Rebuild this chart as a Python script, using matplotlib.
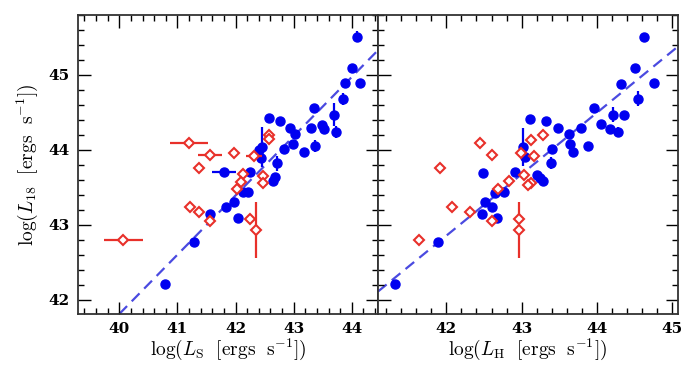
import matplotlib
matplotlib.use("Agg")
import matplotlib.pyplot as plt
from matplotlib.ticker import MultipleLocator

plt.rcParams["mathtext.fontset"] = "cm"
plt.rcParams["font.family"] = "DejaVu Serif"

# -----------------------------------------------------------------------------------------
# Data
# -----------------------------------------------------------------------------------------
# left panel, blue filled circles: log L_S vs log L_18
s_blue_x = [40.78, 41.28, 41.56, 41.80, 41.84, 41.98, 42.05, 42.13, 42.22, 42.24, 42.41, 42.45,
            42.43, 42.65, 42.67, 42.72, 42.58, 42.77, 42.84, 42.93, 42.98, 43.02, 43.17, 43.29,
            43.35, 43.36, 43.48, 43.52, 43.70, 43.73, 43.85, 43.88, 44.00, 44.14, 44.09]
s_blue_y = [42.21, 42.77, 43.15, 43.71, 43.24, 43.31, 43.09, 43.44, 43.44, 43.71, 44.00, 44.04,
            43.89, 43.59, 43.64, 43.82, 44.42, 44.39, 44.01, 44.29, 44.08, 44.21, 43.97, 44.29,
            44.56, 44.05, 44.33, 44.28, 44.47, 44.24, 44.68, 44.89, 45.09, 44.89, 45.51]
s_blue_xerr = [0, 0, 0, 0.2, 0, 0, 0, 0, 0, 0, 0, 0,
               0, 0, 0, 0, 0, 0, 0, 0, 0, 0, 0, 0,
               0, 0, 0, 0, 0.05, 0, 0, 0, 0, 0, 0]
s_blue_yerr = [0, 0, 0, 0, 0, 0, 0, 0, 0, 0, 0, 0.27,
               0, 0, 0, 0.1, 0, 0, 0, 0, 0, 0, 0, 0,
               0, 0.08, 0, 0, 0.15, 0.08, 0.08, 0, 0, 0, 0.07]

# left panel, red open diamonds
s_red_x = [41.20, 41.56, 41.98, 42.32, 42.57, 42.57, 41.37, 42.13, 42.10, 42.03, 42.48, 42.48,
           41.21, 41.37, 41.56, 42.25, 42.36, 40.07]
s_red_y = [44.09, 43.93, 43.96, 43.92, 44.20, 44.14, 43.76, 43.68, 43.57, 43.48, 43.65, 43.56,
           43.24, 43.17, 43.05, 43.08, 42.93, 42.80]
s_red_xerr = [0.32, 0.2, 0, 0.14, 0, 0, 0, 0, 0, 0, 0, 0,
              0, 0, 0, 0, 0, 0.33]
s_red_yerr = [0, 0, 0, 0, 0, 0, 0, 0, 0, 0, 0, 0,
              0, 0, 0, 0, 0.37, 0]

# right panel, blue filled circles: log L_H vs log L_18
h_blue_x = [41.32, 41.89, 42.47, 42.51, 42.61, 42.67, 42.64, 42.77, 42.49, 42.91, 43.20, 43.25,
            43.28, 43.02, 43.04, 43.39, 43.41, 43.11, 43.33, 43.49, 43.63, 43.65, 43.69, 43.79,
            43.88, 43.96, 44.05, 44.17, 44.28, 44.21, 44.36, 44.55, 44.32, 44.76, 44.51, 44.63]
h_blue_y = [42.21, 42.77, 43.15, 43.31, 43.24, 43.09, 43.43, 43.44, 43.69, 43.71, 43.67, 43.63,
            43.59, 44.04, 43.90, 43.83, 44.01, 44.41, 44.39, 44.29, 44.21, 44.08, 43.97, 44.29,
            44.05, 44.56, 44.34, 44.28, 44.24, 44.47, 44.47, 44.68, 44.88, 44.89, 45.09, 45.51]
h_blue_yerr = [0, 0, 0, 0, 0, 0, 0, 0, 0, 0, 0, 0,
               0, 0.25, 0, 0.08, 0, 0, 0, 0, 0, 0, 0, 0,
               0.06, 0, 0, 0, 0.06, 0.1, 0, 0.1, 0, 0, 0, 0.05]

# right panel, red open diamonds
h_red_x = [42.45, 43.13, 43.29, 42.60, 42.99, 43.17, 41.92, 43.03, 42.83, 42.69, 43.13, 43.09,
           42.08, 42.31, 42.61, 42.97, 42.97, 41.63]
h_red_y = [44.09, 44.13, 44.20, 43.93, 43.96, 43.92, 43.76, 43.67, 43.58, 43.48, 43.56, 43.53,
           43.24, 43.17, 43.05, 43.08, 42.93, 42.80]
h_red_yerr = [0, 0, 0, 0, 0, 0, 0, 0, 0, 0, 0, 0,
              0, 0, 0, 0, 0.37, 0]

# dashed fits: two end points each
s_fit_x = [40.0, 44.45]
s_fit_y = [41.81, 45.33]
h_fit_x = [41.09, 45.08]
h_fit_y = [42.11, 45.38]

blue = "#0000f0"
red = "#e8302a"
line_blue = "#4a4ae0"

# -----------------------------------------------------------------------------------------
# Figure
# -----------------------------------------------------------------------------------------
fig = plt.figure(figsize=(6.92, 3.67), dpi=100)
ax1 = fig.add_axes([78 / 692, 1 - 314 / 367, 300 / 692, 299 / 367])
ax2 = fig.add_axes([378 / 692, 1 - 314 / 367, 300 / 692, 299 / 367])


def draw_panel(ax, bx, by, bxe, bye, rx, ry, rxe, rye, fx, fy):
    ax.plot(fx, fy, linestyle=(0, (5, 3)), color=line_blue, lw=1.6, zorder=1)
    ax.errorbar(bx, by, xerr=bxe, yerr=bye, fmt="o", color=blue, ms=6.5,
                elinewidth=1.6, capsize=0, zorder=2)
    ax.errorbar(rx, ry, xerr=rxe, yerr=rye, fmt="D", color=red, mfc="white", mec=red,
                mew=1.5, ms=5.5, elinewidth=1.6, capsize=0, zorder=3)
    ax.set_ylim(41.81, 45.8)
    ax.xaxis.set_major_locator(MultipleLocator(1))
    ax.xaxis.set_minor_locator(MultipleLocator(0.2))
    ax.yaxis.set_major_locator(MultipleLocator(1))
    ax.yaxis.set_minor_locator(MultipleLocator(0.2))
    ax.tick_params(which="both", direction="in", top=True, right=True, width=1.0,
                   labelsize=11, pad=6)
    ax.tick_params(which="major", length=9)
    ax.tick_params(which="minor", length=4.5)
    for sp in ax.spines.values():
        sp.set_linewidth(1.3)
        sp.set_color("#333333")


draw_panel(ax1, s_blue_x, s_blue_y, s_blue_xerr, s_blue_yerr,
           s_red_x, s_red_y, s_red_xerr, s_red_yerr, s_fit_x, s_fit_y)
ax1.set_xlim(39.29, 44.45)
ax1.set_xticks([40, 41, 42, 43, 44])
ax1.set_xticklabels(["40", "41", "42", "43", "44"], fontweight="bold")
ax1.set_yticks([42, 43, 44, 45])
ax1.set_yticklabels(["42", "43", "44", "45"], fontweight="bold")
ax1.set_xlabel(r"$\log(L_{\rm S}\ \ [{\rm ergs\ \ s^{-1}}])$", fontsize=14, labelpad=0)
ax1.set_ylabel(r"$\log(L_{18}\ \ [{\rm ergs\ \ s^{-1}}])$", fontsize=14, labelpad=6)

draw_panel(ax2, h_blue_x, h_blue_y, [0] * len(h_blue_x), h_blue_yerr,
           h_red_x, h_red_y, [0] * len(h_red_x), h_red_yerr, h_fit_x, h_fit_y)
ax2.set_xlim(41.09, 45.08)
ax2.set_xticks([42, 43, 44, 45])
ax2.set_xticklabels(["42", "43", "44", "45"], fontweight="bold")
ax2.set_yticklabels([])
ax2.set_xlabel(r"$\log(L_{\rm H}\ \ [{\rm ergs\ \ s^{-1}}])$", fontsize=14, labelpad=0)

fig.savefig("out.png", dpi=100)
